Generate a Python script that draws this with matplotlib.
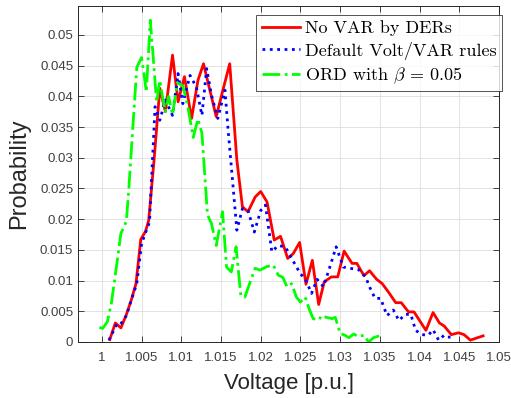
import matplotlib
matplotlib.use("Agg")
import matplotlib.pyplot as plt

# voltage histograms
red_v = [1.0010, 1.0017, 1.0024, 1.0031, 1.0037, 1.0043, 1.0049, 1.0055, 1.0059, 1.0066,
         1.0073, 1.0080, 1.0089, 1.0096, 1.0104, 1.0113, 1.0121, 1.0128, 1.0144, 1.0153,
         1.0161, 1.0170, 1.0177, 1.0184, 1.0193, 1.0200, 1.0208, 1.0217, 1.0225, 1.0234,
         1.0241, 1.0249, 1.0257, 1.0265, 1.0273, 1.0280, 1.0289, 1.0297, 1.0305, 1.0315,
         1.0321, 1.0330, 1.0337, 1.0346, 1.0353, 1.0361, 1.0370, 1.0377, 1.0386, 1.0393,
         1.0401, 1.0408, 1.0417, 1.0425, 1.0431, 1.0440, 1.0449, 1.0456, 1.0464, 1.0473,
         1.0480]
red_p = [0.0004, 0.0031, 0.0023, 0.0045, 0.0068, 0.0095, 0.0167, 0.0180, 0.0198, 0.0300,
         0.0413, 0.0375, 0.0467, 0.0391, 0.0432, 0.0364, 0.0426, 0.0453, 0.0367, 0.0413,
         0.0453, 0.0296, 0.0220, 0.0212, 0.0236, 0.0245, 0.0228, 0.0166, 0.0172, 0.0136,
         0.0144, 0.0162, 0.0094, 0.0133, 0.0061, 0.0098, 0.0106, 0.0106, 0.0148, 0.0128,
         0.0128, 0.0108, 0.0116, 0.0102, 0.0095, 0.0081, 0.0064, 0.0064, 0.0049, 0.0049,
         0.0033, 0.0019, 0.0048, 0.0031, 0.0026, 0.0012, 0.0015, 0.0012, 0.0003, 0.0007,
         0.0010]

blue_v = [1.0009, 1.0018, 1.0022, 1.0031, 1.0037, 1.0044, 1.0050, 1.0055, 1.0060, 1.0067,
          1.0073, 1.0080, 1.0089, 1.0096, 1.0102, 1.0111, 1.0119, 1.0126, 1.0132, 1.0138,
          1.0146, 1.0155, 1.0159, 1.0170, 1.0177, 1.0184, 1.0192, 1.0200, 1.0206, 1.0214,
          1.0222, 1.0231, 1.0239, 1.0250, 1.0256, 1.0264, 1.0271, 1.0279, 1.0287, 1.0295,
          1.0304, 1.0312, 1.0323, 1.0332, 1.0338, 1.0344, 1.0351, 1.0359, 1.0367, 1.0374,
          1.0382, 1.0389, 1.0395, 1.0403, 1.0411, 1.0417, 1.0424, 1.0431, 1.0435, 1.0439]
blue_p = [0.0003, 0.0027, 0.0026, 0.0043, 0.0068, 0.0095, 0.0160, 0.0178, 0.0195, 0.0383,
          0.0361, 0.0394, 0.0369, 0.0437, 0.0388, 0.0434, 0.0415, 0.0369, 0.0445, 0.0402,
          0.0364, 0.0410, 0.0345, 0.0182, 0.0217, 0.0214, 0.0179, 0.0214, 0.0223, 0.0147,
          0.0157, 0.0155, 0.0136, 0.0111, 0.0103, 0.0079, 0.0102, 0.0090, 0.0122, 0.0155,
          0.0122, 0.0120, 0.0118, 0.0106, 0.0087, 0.0071, 0.0071, 0.0043, 0.0052, 0.0035,
          0.0045, 0.0045, 0.0019, 0.0012, 0.0011, 0.0020, 0.0003, 0.0011, 0.0008, 0.0008]

green_v = [0.9997, 1.0001, 1.0007, 1.0012, 1.0016, 1.0020, 1.0024, 1.0028, 1.0031, 1.0034,
           1.0044, 1.0050, 1.0053, 1.0056, 1.0061, 1.0064, 1.0069, 1.0073, 1.0076, 1.0080,
           1.0084, 1.0089, 1.0095, 1.0102, 1.0108, 1.0115, 1.0121, 1.0126, 1.0133, 1.0138,
           1.0144, 1.0152, 1.0157, 1.0163, 1.0169, 1.0175, 1.0180, 1.0186, 1.0193, 1.0199,
           1.0208, 1.0216, 1.0222, 1.0228, 1.0233, 1.0239, 1.0245, 1.0250, 1.0256, 1.0261,
           1.0266, 1.0273, 1.0277, 1.0283, 1.0290, 1.0294, 1.0300, 1.0306, 1.0311, 1.0317,
           1.0323, 1.0330, 1.0336, 1.0342, 1.0349]
green_p = [0.0024, 0.0022, 0.0033, 0.0063, 0.0100, 0.0138, 0.0177, 0.0187, 0.0198, 0.0250,
           0.0447, 0.0463, 0.0437, 0.0407, 0.0524, 0.0475, 0.0390, 0.0426, 0.0402, 0.0375,
           0.0400, 0.0370, 0.0422, 0.0417, 0.0385, 0.0333, 0.0363, 0.0340, 0.0207, 0.0193,
           0.0157, 0.0212, 0.0122, 0.0114, 0.0155, 0.0075, 0.0073, 0.0095, 0.0120, 0.0117,
           0.0123, 0.0125, 0.0109, 0.0105, 0.0090, 0.0095, 0.0073, 0.0065, 0.0073, 0.0054,
           0.0038, 0.0036, 0.0043, 0.0040, 0.0038, 0.0040, 0.0014, 0.0011, 0.0007, 0.0013,
           0.0009, 0.0011, 0.0000, 0.0007, 0.0010]

labels = ["No VAR by DERs", "Default Volt/VAR rules", r"ORD with $\beta$ = 0.05"]
xticks = [1, 1.005, 1.01, 1.015, 1.02, 1.025, 1.03, 1.035, 1.04, 1.045, 1.05]
xticklabels = ["1", "1.005", "1.01", "1.015", "1.02", "1.025", "1.03", "1.035", "1.04", "1.045", "1.05"]
yticks = [0, 0.005, 0.01, 0.015, 0.02, 0.025, 0.03, 0.035, 0.04, 0.045, 0.05]
yticklabels = ["0", "0.005", "0.01", "0.015", "0.02", "0.025", "0.03", "0.035", "0.04", "0.045", "0.05"]

plt.rcParams["font.family"] = ["Liberation Sans", "DejaVu Sans"]
plt.rcParams["mathtext.fontset"] = "cm"
AX = "#262626"

fig = plt.figure(figsize=(5.11, 3.98), dpi=100)
ax = fig.add_axes([78 / 511, 1 - 342 / 398, 421 / 511, 336 / 398])

ax.plot(red_v, red_p, "-", color="#ff0000", lw=2.0, label=labels[0])
ax.plot(blue_v, blue_p, ":", color="#0000ff", lw=2.0, label=labels[1])
ax.plot(green_v, green_p, "-.", color="#00ff00", lw=2.0, label=labels[2])

ax.set_xlim(0.997, 1.05)
ax.set_ylim(0, 0.0547)
ax.set_xticks(xticks)
ax.set_xticklabels(xticklabels)
ax.set_yticks(yticks)
ax.set_yticklabels(yticklabels)
ax.tick_params(direction="in", length=4, width=0.6, colors=AX, labelsize=9.5,
               top=True, right=True, labelcolor="#404040")
ax.tick_params(axis="x", pad=7)
ax.grid(True, color="#dedede", lw=0.6)
ax.set_axisbelow(True)
for s in ax.spines.values():
    s.set_color(AX)
    s.set_linewidth(0.7)

ax.set_xlabel("Voltage [p.u.]", fontsize=16, color=AX, labelpad=7)
ax.set_ylabel("Probability", fontsize=17, color=AX, labelpad=7)

leg = ax.legend(loc="upper right", bbox_to_anchor=(502 / 511, 1 - 15 / 398),
                bbox_transform=fig.transFigure, borderaxespad=0,
                prop={"family": "cmr10", "size": 13}, fancybox=False,
                handlelength=2.1, handletextpad=0.3, labelspacing=0.3,
                borderpad=0.3)
leg.get_frame().set_edgecolor(AX)
leg.get_frame().set_linewidth(0.7)

fig.savefig("out.png", dpi=100)
